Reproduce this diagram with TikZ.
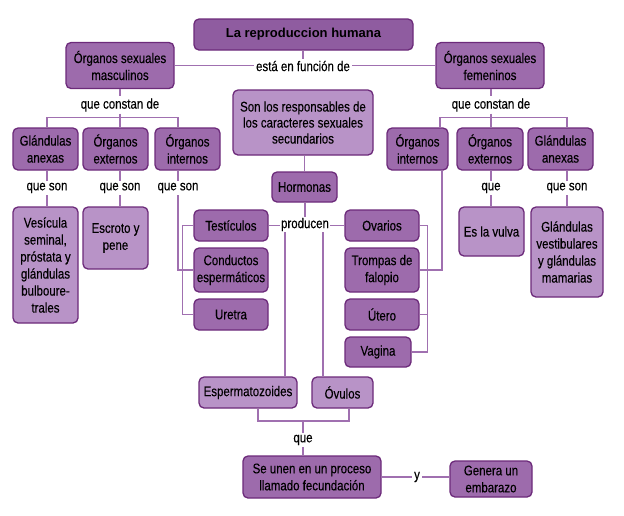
\documentclass[tikz,border=0pt]{standalone}
\usepackage{fontspec}
\setmainfont{Liberation Sans}[FakeStretch=0.82, FakeBold=0.3]
\newfontfamily\ttlfont{Liberation Sans}
\definecolor{dkfill}{RGB}{157,107,172}
\definecolor{ttlfill}{RGB}{143,92,160}
\definecolor{ltfill}{RGB}{184,147,199}
\definecolor{bord}{RGB}{108,42,122}
\definecolor{lnc}{RGB}{160,112,176}
\begin{document}
\begin{tikzpicture}[x=1pt,y=-1pt,
  font=\fontsize{14}{17}\selectfont,
  bx/.style={draw=bord, line width=1.3pt, rounded corners=5pt, align=center, inner sep=0pt, text=black},
  dk/.style={bx, fill=dkfill},
  lt/.style={bx, fill=ltfill},
  tt/.style={bx, fill=ttlfill},
  lbl/.style={fill=white, inner sep=2pt, text=black},
  ln/.style={draw=lnc, line width=1.1pt},
  sz/.style 2 args={minimum width=#1pt, minimum height=#2pt}
]
\useasboundingbox (0,0) rectangle (624,515);

% top
\node[tt, sz={219}{31}] (title) at (303.5,34.5) {\fontsize{13}{16}\ttlfont\bfseries La reproduccion humana};
\node[dk, sz={108}{46}] (masc) at (120,65.5) {Órganos sexuales\\masculinos};
\node[dk, sz={108}{46}] (fem) at (490,65.5) {Órganos sexuales\\femeninos};
\node[lbl] (fun) at (303,66) {está en función de};

% left
\node[lbl] (qcL) at (120,105) {que constan de};
\node[dk, sz={65}{42}] (Lglan) at (45.5,149) {Glándulas\\anexas};
\node[dk, sz={65}{42}] (Lext) at (115.5,149) {Órganos\\externos};
\node[dk, sz={65}{42}] (Lint) at (187.5,149) {Órganos\\internos};
\node[lbl] (qs1) at (47,188) {que son};
\node[lbl] (qs2) at (120,188) {que son};
\node[lbl] (qs3) at (178,188) {que son};
\node[lt, sz={65}{116}] (ves) at (45.5,265) {Vesícula\\seminal,\\próstata y\\glándulas\\bulboure-\\trales};
\node[lt, sz={65}{62}] (esc) at (115.5,238) {Escroto y\\pene};
\node[dk, sz={74}{31}] (test) at (231,225.5) {Testículos};
\node[dk, sz={74}{44}] (cond) at (231,270) {Conductos\\espermáticos};
\node[dk, sz={74}{31}] (ure) at (231,314.5) {Uretra};

% right
\node[lbl] (qcR) at (491,105) {que constan de};
\node[dk, sz={61}{42}] (Rint) at (417.5,149) {Órganos\\internos};
\node[dk, sz={66}{42}] (Rext) at (490,149) {Órganos\\externos};
\node[dk, sz={65}{42}] (Rglan) at (560.5,149) {Glándulas\\anexas};
\node[lbl] (qR2) at (491,188) {que};
\node[lbl] (qR3) at (567,188) {que son};
\node[lt, sz={65}{49}] (vulva) at (491.5,231.5) {Es la vulva};
\node[lt, sz={72}{90}] (gv) at (567,252) {Glándulas\\vestibulares\\y glándulas\\mamarias};
\node[dk, sz={74}{31}] (ova) at (382,225.5) {Ovarios};
\node[dk, sz={74}{44}] (tro) at (382,270) {Trompas de\\falopio};
\node[dk, sz={74}{31}] (ute) at (382,314.5) {Útero};
\node[dk, sz={66}{30}] (vag) at (378,352) {Vagina};

% center
\node[lt, sz={140}{65}, font=\fontsize{14}{16}\selectfont] (cen) at (303,122.5) {Son los responsables de\\los caracteres sexuales\\secundarios};
\node[dk, sz={65}{30}] (horm) at (304.5,187) {Hormonas};
\node[lbl, inner sep=1pt] (prod) at (305,224.5) {producen};
\node[lt, sz={98}{31}] (esp) at (248,392.5) {Espermatozoides};
\node[lt, sz={61}{31}] (ovu) at (342.5,392.5) {Óvulos};
\node[lbl] (que) at (303,440) {que};
\node[dk, sz={138}{42}] (union) at (312,477) {Se unen en un proceso\\llamado fecundación};
\node[lbl] (ylbl) at (417,477) {y};
\node[dk, sz={82}{36}] (gen) at (491,479) {Genera un\\embarazo};

% connectors top
\draw[ln] (title.south -| fun) -- (fun.north);
\draw[ln] (masc.east) -- (masc.east -| fun.west);
\draw[ln] (fem.west -| fun.east) -- (fem.west);

% left tree
\draw[ln] (masc.south) -- (qcL.north);
\draw[ln] (qcL.south) -- (qcL.south |- Lext.north);
\draw[ln] (Lglan.north -| qs1) -- ++(0,-10) -| (Lint.north -| qs3);
\draw[ln] (Lglan.south -| qs1) -- (qs1.north);
\draw[ln] (qs1.south) -- (qs1.south |- ves.north);
\draw[ln] (Lext.south -| qs2) -- (qs2.north);
\draw[ln] (qs2.south) -- (qs2.south |- esc.north);
\draw[ln] (Lint.south -| qs3) -- (qs3.north);
\draw[ln] (qs3.south) |- (cond.west);
\draw[ln] (test.west) -- ++(-11,0) |- (ure.west);

% right tree
\draw[ln] (fem.south -| qcR) -- (qcR.north);
\draw[ln] (qcR.south) -- (qcR.south |- Rext.north);
\draw[ln] ([xshift=22.5pt]Rint.north) -- ++(0,-10) -| (Rglan.north -| qR3);
\draw[ln] (Rext.south -| qR2) -- (qR2.north);
\draw[ln] (qR2.south) -- (qR2.south |- vulva.north);
\draw[ln] (Rglan.south -| qR3) -- (qR3.north);
\draw[ln] (qR3.south) -- (qR3.south |- gv.north);
\draw[ln] ([xshift=24.5pt]Rint.south) |- (tro.east);
\draw[ln] (ova.east) -- ++(8,0) |- (vag.east);
\draw[ln] (ute.east) -- ++(8,0);

% center
\draw[ln] (cen.south -| horm) -- (horm.north);
\draw[ln] (horm.south -| prod) -- (prod.north);
\draw[ln] (test.east) -- (test.east -| prod.west);
\draw[ln] (ova.west -| prod.east) -- (ova.west);
\draw[ln] ([xshift=37pt]esp.north) -- ([xshift=37pt]esp.north |- prod.south);
\draw[ln] ([xshift=-19.5pt]ovu.north) -- ([xshift=-19.5pt]ovu.north |- prod.south);
\coordinate (jq) at (303,421);
\draw[ln] ([xshift=10pt]esp.south) |- (jq) -| ([xshift=6.5pt]ovu.south);
\draw[ln] (jq) -- (que.north);
\draw[ln] (que.south) -- (que.south |- union.north);
\draw[ln] (union.east |- ylbl) -- (ylbl.west);
\draw[ln] (ylbl.east) -- (ylbl.east -| gen.west);
\end{tikzpicture}
\end{document}
